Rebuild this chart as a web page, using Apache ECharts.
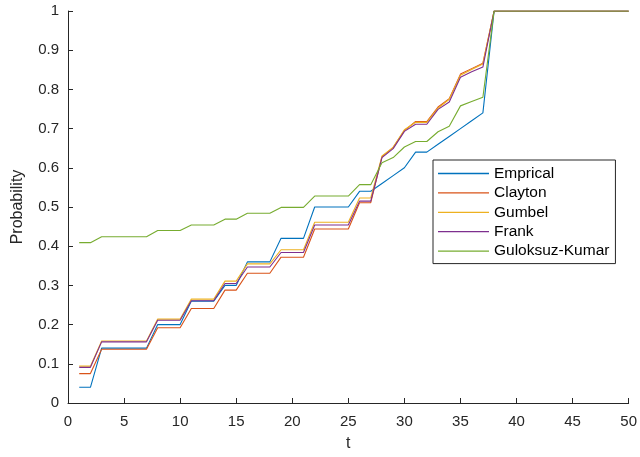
<!DOCTYPE html>
<html>
<head>
<meta charset="utf-8">
<script src="https://cdn.jsdelivr.net/npm/echarts@6/dist/echarts.min.js"></script>
<style>
html,body{margin:0;padding:0;background:#fff;}
#chart{width:640px;height:457px;}
</style>
</head>
<body>
<div id="chart"></div>
<script>
const tValues = [1,2,3,4,5,6,7,8,9,10,11,12,13,14,15,16,17,18,19,20,21,22,23,24,25,26,27,28,29,30,31,32,33,34,35,36,37,38,39,40,41,42,43,44,45,46,47,48,49,50];
const seriesNames = ['Emprical','Clayton','Gumbel','Frank','Guloksuz-Kumar'];
const emprical = [0.04,0.04,0.14,0.14,0.14,0.14,0.14,0.20,0.20,0.20,0.26,0.26,0.26,0.30,0.30,0.36,0.36,0.36,0.42,0.42,0.42,0.50,0.50,0.50,0.50,0.54,0.54,0.56,0.58,0.60,0.64,0.64,0.66,0.68,0.70,0.72,0.74,1,1,1,1,1,1,1,1,1,1,1,1,1];
const clayton = [0.075,0.075,0.137,0.137,0.137,0.137,0.137,0.192,0.192,0.192,0.241,0.241,0.241,0.288,0.288,0.331,0.331,0.331,0.372,0.372,0.372,0.444,0.444,0.444,0.444,0.511,0.511,0.628,0.652,0.695,0.718,0.718,0.755,0.776,0.839,0.853,0.867,1,1,1,1,1,1,1,1,1,1,1,1,1];
const gumbel = [0.094,0.094,0.158,0.158,0.158,0.158,0.158,0.214,0.214,0.214,0.265,0.265,0.265,0.311,0.311,0.355,0.355,0.355,0.391,0.391,0.391,0.461,0.461,0.461,0.461,0.523,0.523,0.630,0.652,0.697,0.716,0.716,0.752,0.775,0.836,0.851,0.865,1,1,1,1,1,1,1,1,1,1,1,1,1];
const frank = [0.091,0.091,0.156,0.156,0.156,0.156,0.156,0.211,0.211,0.211,0.261,0.261,0.261,0.305,0.305,0.347,0.347,0.347,0.384,0.384,0.384,0.454,0.454,0.454,0.454,0.515,0.515,0.626,0.649,0.693,0.711,0.711,0.749,0.768,0.831,0.845,0.857,1,1,1,1,1,1,1,1,1,1,1,1,1];
const guloksuzKumar = [0.409,0.409,0.424,0.424,0.424,0.424,0.424,0.44,0.44,0.44,0.454,0.454,0.454,0.469,0.469,0.484,0.484,0.484,0.499,0.499,0.499,0.528,0.528,0.528,0.528,0.557,0.557,0.613,0.626,0.653,0.667,0.667,0.692,0.706,0.758,0.769,0.78,1,1,1,1,1,1,1,1,1,1,1,1,1];
const xTicks = {min:0, max:50, interval:5};
const yTicks = {min:0, max:1, interval:0.1};

const colors = ['#0072BD','#D95319','#EDB120','#7E2F8E','#77AC30'];
const allValues = [emprical, clayton, gumbel, frank, guloksuzKumar];
const axisColor = '#262626';
const font = 'Liberation Sans, Arial, Helvetica, sans-serif';

const chart = echarts.init(document.getElementById('chart'), null, {renderer:'canvas'});
chart.setOption({
  animation:false,
  backgroundColor:'#fff',
  color:colors,
  grid:{left:68, right:6, top:11, bottom:48, containLabel:false},
  legend:{
    orient:'vertical', left:433, top:160,
    data:seriesNames.map(n => ({name:n, icon:'rect'})),
    itemWidth:51, itemHeight:1.3, itemGap:2.4,
    padding:[5,6,4,5],
    borderColor:'#262626', borderWidth:1, backgroundColor:'#fff',
    textStyle:{fontFamily:font, fontSize:15.5, color:'#000', lineHeight:17}
  },
  xAxis:{
    type:'value', min:xTicks.min, max:xTicks.max, interval:xTicks.interval,
    name:'t', nameLocation:'middle', nameGap:33,
    nameTextStyle:{fontFamily:font, fontSize:16, color:axisColor},
    axisLine:{show:true, onZero:false, lineStyle:{color:axisColor, width:1}},
    axisTick:{show:true, inside:true, length:5, lineStyle:{color:axisColor}},
    axisLabel:{fontFamily:font, fontSize:15, color:axisColor, margin:11},
    splitLine:{show:false}
  },
  yAxis:{
    type:'value', min:yTicks.min, max:yTicks.max, interval:yTicks.interval,
    name:'Probability', nameLocation:'middle', nameGap:42,
    nameTextStyle:{fontFamily:font, fontSize:16, color:axisColor},
    axisLine:{show:true, lineStyle:{color:axisColor, width:1}},
    axisTick:{show:true, inside:true, length:5, lineStyle:{color:axisColor}},
    axisLabel:{fontFamily:font, fontSize:15, color:axisColor, margin:9},
    splitLine:{show:false}
  },
  series: seriesNames.map((name, i) => ({
    name:name, type:'line', symbol:'none', showSymbol:false,
    data: tValues.map((t, j) => [t, allValues[i][j]]),
    lineStyle:{width:1.1, color:colors[i]},
    itemStyle:{color:colors[i]},
    z:2+i
  }))
});
</script>
</body>
</html>
